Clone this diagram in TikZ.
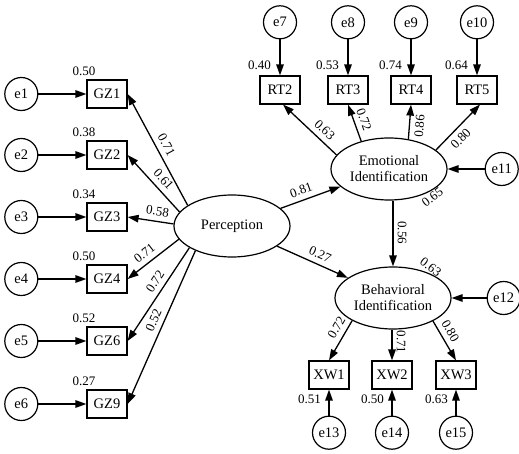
\documentclass[tikz,border=0pt]{standalone}
\usepackage{fontspec}
\setmainfont{Liberation Serif}
\usetikzlibrary{shapes.geometric, arrows.meta, positioning}
\tikzset{
    latent/.style={draw, ellipse, line width=1.2pt, minimum width=116pt, minimum height=62pt, inner sep=0pt, align=center, font=\fontsize{14.5}{16}\selectfont},
    item/.style={draw, rectangle, line width=1.2pt, minimum width=40pt, minimum height=28pt, inner sep=0pt, font=\fontsize{14.5}{16}\selectfont},
    err/.style={draw, circle, line width=1.2pt, minimum size=33pt, inner sep=0pt, font=\fontsize{14.5}{16}\selectfont},
    arrow/.style={-{Triangle[length=11pt,width=7.5pt]}, line width=1.3pt},
    coef/.style={font=\fontsize{13}{14}\selectfont, inner sep=2pt},
    rsq/.style={font=\fontsize{13}{14}\selectfont, inner sep=0pt}
}
\begin{document}
\begin{tikzpicture}[x=1pt, y=-1pt]
        \useasboundingbox (0,0) rectangle (519,454);
        \node [latent] (perc) at (232,226) {Perception};
        \node [latent] (emo) at (389,169) {Emotional\\Identification};
        \node [latent] (beh) at (393,298) {Behavioral\\Identification};
        \node [item] (gz1) at (107,94) {GZ1};
        \node [item] (gz2) at (107,155) {GZ2};
        \node [item] (gz3) at (107,217) {GZ3};
        \node [item] (gz4) at (107,279) {GZ4};
        \node [item] (gz6) at (107,341) {GZ6};
        \node [item] (gz9) at (107,404) {GZ9};
        \node [item] (rt2) at (280,90) {RT2};
        \node [item] (rt3) at (348,90) {RT3};
        \node [item] (rt4) at (411,90) {RT4};
        \node [item] (rt5) at (477,90) {RT5};
        \node [item] (xw1) at (329,375) {XW1};
        \node [item] (xw2) at (392,375) {XW2};
        \node [item] (xw3) at (456,375) {XW3};
        \node [err, left=48pt of gz1] (e1) {e1};
        \node [err, left=48pt of gz2] (e2) {e2};
        \node [err, left=48pt of gz3] (e3) {e3};
        \node [err, left=48pt of gz4] (e4) {e4};
        \node [err, left=48pt of gz6] (e5) {e5};
        \node [err, left=48pt of gz9] (e6) {e6};
        \node [err, above=36pt of rt2] (e7) {e7};
        \node [err, above=36pt of rt3] (e8) {e8};
        \node [err, above=36pt of rt4] (e9) {e9};
        \node [err, above=36pt of rt5] (e10) {e10};
        \node [err, right=37pt of emo] (e11) {e11};
        \node [err, right=35pt of beh] (e12) {e12};
        \node [err, below=26pt of xw1] (e13) {e13};
        \node [err, below=26pt of xw2] (e14) {e14};
        \node [err, below=26pt of xw3] (e15) {e15};
        \node [rsq, anchor=south] at ([xshift=-23pt,yshift=4pt]gz1.north) {0.50};
        \node [rsq, anchor=south] at ([xshift=-23pt,yshift=4pt]gz2.north) {0.38};
        \node [rsq, anchor=south] at ([xshift=-23pt,yshift=4pt]gz3.north) {0.34};
        \node [rsq, anchor=south] at ([xshift=-23pt,yshift=4pt]gz4.north) {0.50};
        \node [rsq, anchor=south] at ([xshift=-23pt,yshift=4pt]gz6.north) {0.52};
        \node [rsq, anchor=south] at ([xshift=-23pt,yshift=4pt]gz9.north) {0.27};
        \node [rsq, anchor=south east] at ([xshift=-9pt,yshift=6pt]rt2.north) {0.40};
        \node [rsq, anchor=south east] at ([xshift=-9pt,yshift=6pt]rt3.north) {0.53};
        \node [rsq, anchor=south east] at ([xshift=-9pt,yshift=6pt]rt4.north) {0.74};
        \node [rsq, anchor=south east] at ([xshift=-9pt,yshift=6pt]rt5.north) {0.64};
        \node [rsq, anchor=north east] at ([xshift=-8pt,yshift=-5pt]xw1.south) {0.51};
        \node [rsq, anchor=north east] at ([xshift=-8pt,yshift=-5pt]xw2.south) {0.50};
        \node [rsq, anchor=north east] at ([xshift=-8pt,yshift=-5pt]xw3.south) {0.63};
        \node [rsq, rotate=37] at ([shift={(6pt,-4pt)}]emo.-33) {0.65};
        \node [rsq, rotate=-37] at ([shift={(6pt,4pt)}]beh.40) {0.63};
        \draw [arrow] (e1) -- (gz1);
        \draw [arrow] (e2) -- (gz2);
        \draw [arrow] (e3) -- (gz3);
        \draw [arrow] (e4) -- (gz4);
        \draw [arrow] (e5) -- (gz6);
        \draw [arrow] (e6) -- (gz9);
        \draw [arrow] (e7) -- (rt2);
        \draw [arrow] (e8) -- (rt3);
        \draw [arrow] (e9) -- (rt4);
        \draw [arrow] (e10) -- (rt5);
        \draw [arrow] (e11) -- (emo);
        \draw [arrow] (e12) -- (beh);
        \draw [arrow] (e13) -- (xw1);
        \draw [arrow] (e14) -- (xw2);
        \draw [arrow] (e15) -- (xw3);
        \draw [arrow] (perc.155) -- node [coef, sloped, above=3pt, pos=0.5] {0.71} (gz1.east);
        \draw [arrow] (perc.165) -- node [coef, sloped, above=3pt, pos=0.45] {0.61} (gz2.east);
        \draw [arrow] (perc.178) -- node [coef, sloped, above=3pt, pos=0.38] {0.58} (gz3.east);
        \draw [arrow] (perc.194) -- node [coef, sloped, above=3pt, pos=0.55] {0.71} (gz4.east);
        \draw [arrow] (perc.207) -- node [coef, sloped, above=3pt, pos=0.42] {0.72} (gz6.east);
        \draw [arrow] (perc.214) -- node [coef, sloped, above=3pt, pos=0.48] {0.52} (gz9.east);
        \draw [arrow] (perc) -- node [coef, sloped, above=3pt, pos=0.4] {0.81} (emo);
        \draw [arrow] (perc) -- node [coef, sloped, above=3pt, pos=0.55] {0.27} (beh);
        \draw [arrow] (emo.165) -- node [coef, sloped, above=3pt, pos=0.35] {0.63} ([xshift=3pt]rt2.south);
        \draw [arrow] (emo.135) -- node [coef, sloped, above=3pt, pos=0.5] {0.72} (rt3.south);
        \draw [arrow] (emo.57) -- node [coef, sloped, below=3pt, pos=0.4] {0.86} (rt4.south);
        \draw [arrow] (emo.22) -- node [coef, sloped, below=3pt, pos=0.4] {0.80} ([xshift=3pt]rt5.south);
        \draw [arrow] (beh.north |- emo.south) -- node [coef, inner sep=4pt, rotate=-90, anchor=south, pos=0.49] {0.56} (beh.north);
        \draw [arrow] (beh.209) -- node [coef, sloped, above=3pt, pos=0.3] {0.72} (xw1.north);
        \draw [arrow] (beh.south -| xw2.north) -- node [coef, inner sep=4pt, rotate=-90, anchor=south, pos=0.4] {0.71} (xw2.north);
        \draw [arrow] (beh.330) -- node [coef, sloped, above=3pt, pos=0.38] {0.80} (xw3.north);
    \end{tikzpicture}
\end{document}
